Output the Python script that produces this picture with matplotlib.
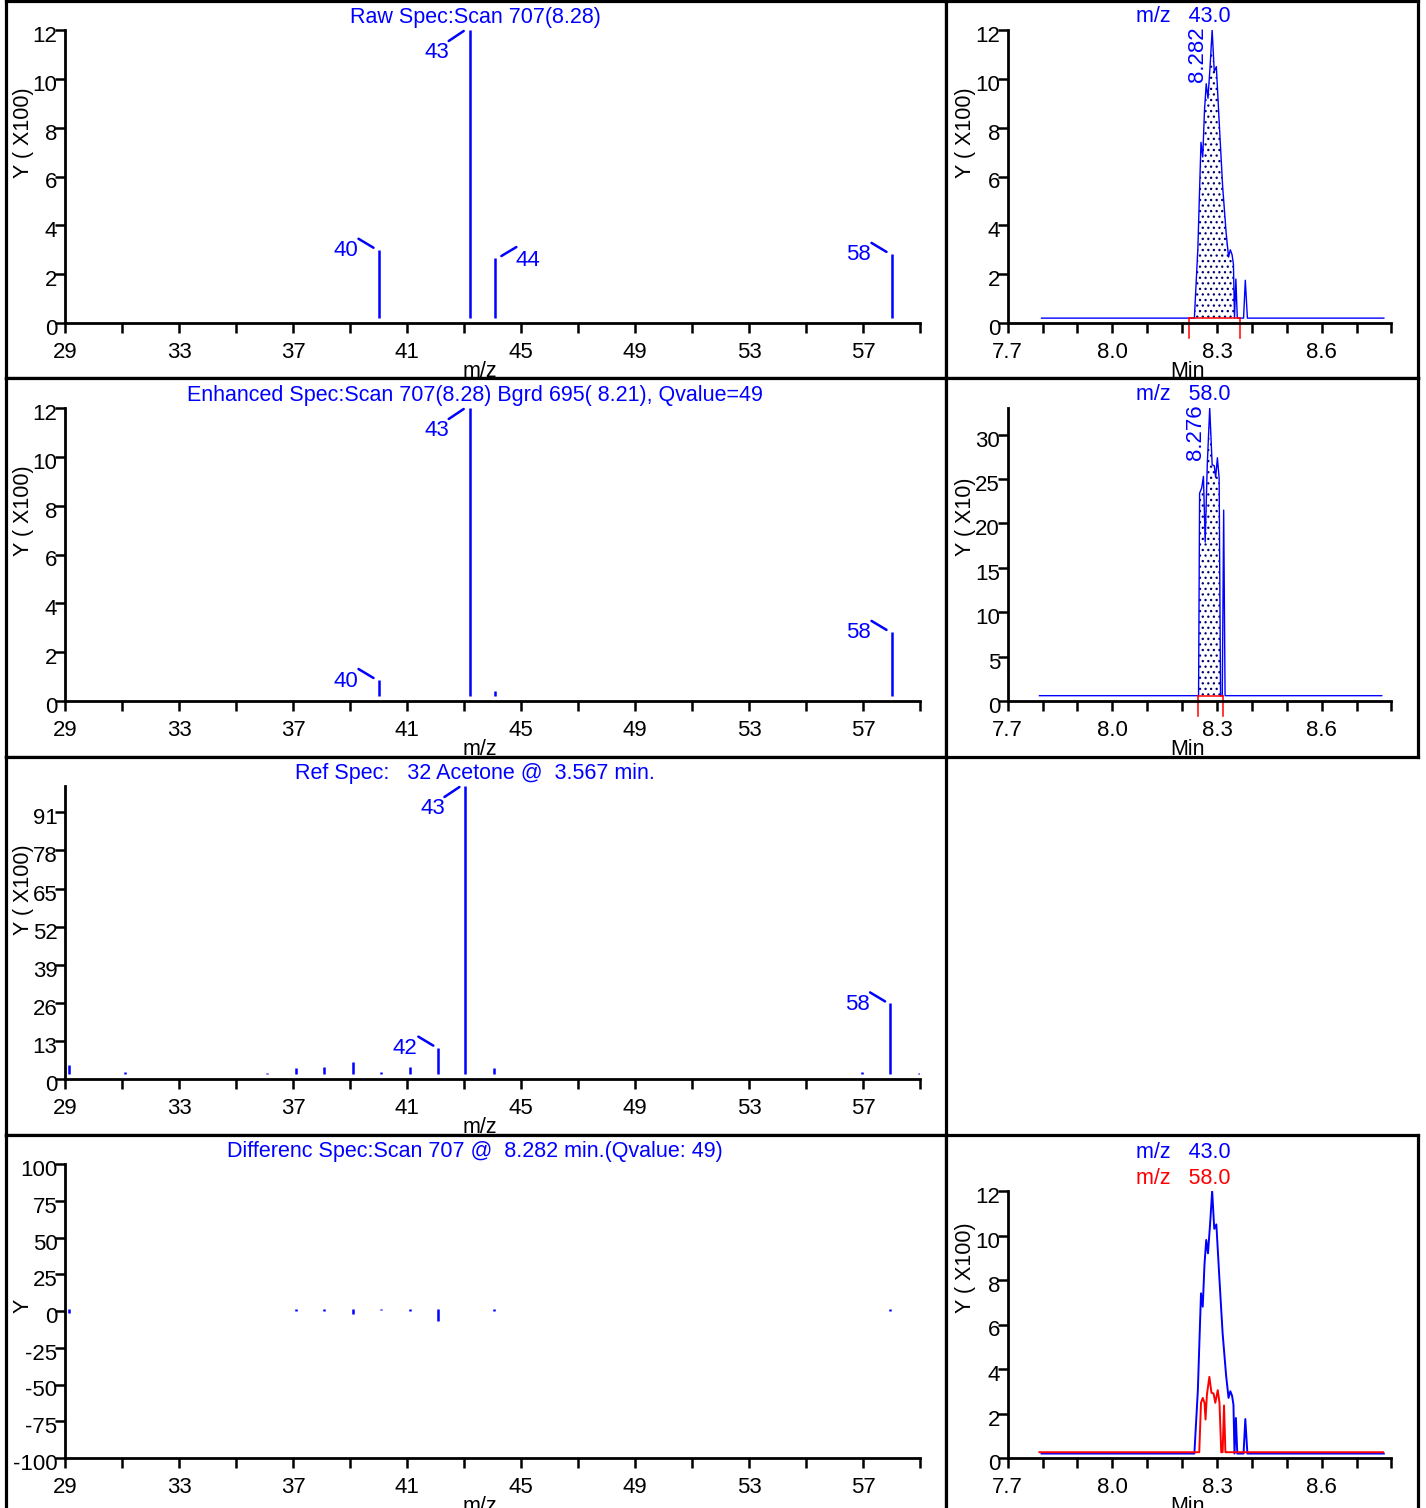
import numpy as np
import matplotlib
matplotlib.use('Agg')
import matplotlib.pyplot as plt
import matplotlib.transforms as mtransforms

plt.rcParams['font.family'] = ['Liberation Sans', 'DejaVu Sans']
plt.rcParams['font.size'] = 15.5
plt.rcParams['axes.unicode_minus'] = False
plt.rcParams['hatch.linewidth'] = 0.9

W, H = 1426, 1508
BLUE = '#0000ff'
RED = '#ff0000'
NAVY = '#000070'
TICK_FS = 16

# ---------------- spectra (m/z, intensity in counts) ----------------
raw_mz = [40.0, 43.2, 44.1, 58.0]
raw_int = [300, 1200, 266, 283]
raw_tag = ['ul', 'dl', 'ur', 'ul']

enh_mz = [40.0, 43.2, 44.1, 58.0]
enh_int = [86, 1200, 41, 283]
enh_tag = ['ul', 'dl', None, 'ul']

ref_mz = [29.15, 31.1, 36.1, 37.1, 38.1, 39.1, 40.1, 41.1, 42.1, 43.05, 44.05, 56.95, 57.95, 58.95]
ref_int = [490, 230, 200, 380, 410, 580, 250, 410, 1070, 10000, 380, 230, 2580, 210]
ref_tag = [None, None, None, None, None, None, None, None, 'ul', 'dl', None, None, 'ul', None]

diff_mz = [29.15, 37.1, 38.1, 39.1, 40.1, 41.1, 42.1, 44.05, 57.95]
diff_val = [-1.4, 0, 0, -2.2, 0.8, 0, -6.8, 0, 0]

# ---------------- chromatograms (min, counts) ----------------
t43 = [7.797, 8.235, 8.245, 8.249, 8.254, 8.259, 8.264, 8.269, 8.274, 8.280, 8.286, 8.292,
       8.298, 8.307, 8.316, 8.326, 8.333, 8.338, 8.343, 8.347, 8.350, 8.354, 8.358, 8.376,
       8.381, 8.387, 8.778]
i43 = [20, 20, 304, 500, 740, 680, 870, 980, 920, 1050, 1200, 1030,
       1050, 800, 560, 370, 270, 300, 280, 240, 20, 180, 20, 20,
       175, 20, 20]
rt43 = 8.282
fill43 = (8.235, 8.350)
bracket43 = (8.219, 8.366)

t58 = [7.791, 8.247, 8.250, 8.256, 8.261, 8.266, 8.272, 8.279, 8.286, 8.292, 8.296, 8.301,
       8.306, 8.310, 8.315, 8.319, 8.323, 8.772]
i58 = [6, 6, 234, 240, 253, 179, 266, 330, 266, 265, 252, 274,
       251, 6, 6, 215, 6, 6]
rt58 = 8.276
fill58 = (8.247, 8.310)
bracket58 = (8.2446, 8.316)

# m/z 58 trace as drawn in the overlay panel
t58o = [7.791, 8.249, 8.254, 8.259, 8.264, 8.267, 8.271, 8.278, 8.284, 8.290, 8.295, 8.302,
        8.307, 8.312, 8.316, 8.320, 8.324, 8.776]
i58o = [26, 26, 248, 270, 248, 173, 285, 365, 293, 290, 248, 305,
        248, 26, 26, 236, 26, 26]

titles = ['Raw Spec:Scan 707(8.28)',
          'Enhanced Spec:Scan 707(8.28) Bgrd 695( 8.21), Qvalue=49',
          'Ref Spec:   32 Acetone @  3.567 min.',
          'Differenc Spec:Scan 707 @  8.282 min.(Qvalue: 49)']

fig = plt.figure(figsize=(W / 100, H / 100), dpi=100)
fig.patch.set_facecolor('white')


def rect(l, t, r, b):
    return [l / W, 1 - b / H, (r - l) / W, (b - t) / H]


def frame(l, t, r, b):
    p = fig.add_axes(rect(l, t, r, b), zorder=0)
    p.set_xticks([])
    p.set_yticks([])
    for s in p.spines.values():
        s.set_linewidth(2.3)
    return p


def ftext(p, x, y, s, **kw):
    return p.text(x / W, 1 - y / H, s, transform=fig.transFigure, clip_on=True, **kw)


def plot_ax(l, t, r, b):
    a = fig.add_axes(rect(l, t, r, b), zorder=1)
    a.patch.set_alpha(0)
    a.spines[['top', 'right']].set_visible(False)
    a.spines[['left', 'bottom']].set_linewidth(2)
    a.tick_params(direction='out', length=7, width=1.8, labelsize=TICK_FS)
    a.tick_params(axis='y', pad=-1.5)
    a.tick_params(axis='x', pad=7)
    return a


def shift_ylabels(a):
    off = mtransforms.ScaledTranslation(0, -4 / 100, fig.dpi_scale_trans)
    for lab in a.get_yticklabels():
        lab.set_transform(lab.get_transform() + off)


TAGS = {
    'dl': ((-6, -1), (-21, -11), (-33, -22)),
    'ul': ((-5, 2), (-20, 11), (-33, -1)),
    'ur': ((6, 2), (21, 11), (33, -2)),
}


def tag(a, x, y, kind):
    A, B, L = TAGS[kind]
    tr = mtransforms.offset_copy(a.transData, fig=fig, x=A[0], y=A[1], units='dots')
    a.annotate('', xy=(x, y), xycoords=tr, xytext=(B[0] - A[0], B[1] - A[1]),
               textcoords='offset pixels', annotation_clip=False,
               arrowprops=dict(arrowstyle='-', color=BLUE, lw=1.8, shrinkA=0, shrinkB=0))
    a.annotate(str(int(round(x))), xy=(x, y), xytext=L, textcoords='offset pixels',
               ha='center', va='center', color=BLUE, fontsize=TICK_FS, annotation_clip=False)


def mz_axis(a):
    a.set_xlim(29, 59)
    ticks = np.arange(29, 60, 2)
    a.set_xticks(ticks)
    a.set_xticklabels([str(v) if (v - 29) % 4 == 0 else '' for v in ticks])


def spectrum(a, mz, inten, tags, ymax, yticks, ylabels):
    mz_axis(a)
    a.set_ylim(0, ymax)
    a.set_yticks(yticks)
    a.set_yticklabels(ylabels)
    base = ymax * 5 / 293
    a.vlines(mz, base, inten, color=BLUE, lw=1.8)
    for x, y, k in zip(mz, inten, tags):
        if k:
            tag(a, x, y, k)
    shift_ylabels(a)


def rt_axis(a):
    a.set_xlim(7.7, 8.8)
    ticks = np.round(np.arange(7.7, 8.81, 0.1), 1)
    a.set_xticks(ticks)
    a.set_xticklabels(['%.1f' % v if v in (7.7, 8.0, 8.3, 8.6) else '' for v in ticks])


def chrom(a, t, y, ymax, px_h, fill, bracket, rt, yticks, ylabels):
    rt_axis(a)
    a.set_ylim(0, ymax)
    a.set_yticks(yticks)
    a.set_yticklabels(ylabels)
    t = np.asarray(t)
    y = np.asarray(y)
    base = y[0]
    mask = (t >= fill[0]) & (t <= fill[1])
    a.fill_between(t, base, y, where=mask, facecolor='white', edgecolor=NAVY,
                   hatch='...', linewidth=0)
    a.plot(t, y, color=BLUE, lw=1.0)
    low = -15 * ymax / px_h
    a.plot([bracket[0], bracket[1]], [base, base], color=RED, lw=1.1)
    for s in bracket:
        a.plot([s, s], [base, low], color=RED, lw=1.1, clip_on=False)
    a.annotate('%.3f' % rt, xy=(rt, ymax), xytext=(-13, -52), textcoords='offset pixels',
               rotation=90, rotation_mode='anchor', ha='left', va='center',
               color=BLUE, fontsize=TICK_FS, annotation_clip=False)
    shift_ylabels(a)


row_top = [1, 378, 757, 1135]
row_ax = [0, 378, 756, 1135]

# ---------------- frames and texts ----------------
for i in range(4):
    bottom = row_top[i + 1] if i < 3 else 1530
    p = frame(6, row_top[i], 946, bottom)
    ftext(p, 475, 17 + row_ax[i], titles[i], ha='center', va='center', color=BLUE)
    ftext(p, 480, 377 + row_ax[i], 'm/z', ha='center', va='baseline')
    ftext(p, 23, 178 + row_top[i] - (1 if i == 0 else 0), 'Y' if i == 3 else 'Y ( X100)',
          rotation=90, rotation_mode='anchor', ha='left', va='center')

right_rows = [0, 1, 3]
for i in right_rows:
    bottom = row_top[i + 1] if i < 3 else 1530
    p = frame(946, row_top[i], 1418, bottom)
    ftext(p, 1188, 377 + row_ax[i], 'Min', ha='center', va='baseline')
    ftext(p, 965, 178 + row_top[i] - (1 if i == 0 else 0), 'Y ( X10)' if i == 1 else 'Y ( X100)',
          rotation=90, rotation_mode='anchor', ha='left', va='center')
    if i == 0:
        ftext(p, 1183, 17, 'm/z   43.0', ha='center', va='center', color=BLUE)
    elif i == 1:
        ftext(p, 1183, 395, 'm/z   58.0', ha='center', va='center', color=BLUE)
    else:
        ftext(p, 1183, 1152, 'm/z   43.0', ha='center', va='center', color=BLUE)
        ftext(p, 1183, 1178, 'm/z   58.0', ha='center', va='center', color=RED)

# ---------------- spectra ----------------
yt12 = np.arange(0, 1201, 200)
yl12 = [str(v // 100) for v in yt12]

a1 = plot_ax(65, 30 + row_ax[0], 920, 323 + row_ax[0])
spectrum(a1, raw_mz, raw_int, raw_tag, 1200, yt12, yl12)

a2 = plot_ax(65, 30 + row_ax[1], 920, 323 + row_ax[1])
spectrum(a2, enh_mz, enh_int, enh_tag, 1200, yt12, yl12)

a3 = plot_ax(65, 30 + row_ax[2], 920, 323 + row_ax[2])
yt_ref = np.arange(0, 9101, 1300)
spectrum(a3, ref_mz, ref_int, ref_tag, 10000, yt_ref, [str(v // 100) for v in yt_ref])

a4 = plot_ax(65, 29 + row_ax[3], 920, 323 + row_ax[3])
mz_axis(a4)
a4.set_ylim(-100, 100)
yt_d = np.arange(-100, 101, 25)
a4.set_yticks(yt_d)
a4.set_yticklabels([str(v) for v in yt_d])
a4.vlines(diff_mz, 200 * 2.4 / 294, diff_val, color=BLUE, lw=1.8)
shift_ylabels(a4)

# ---------------- chromatograms ----------------
c1 = plot_ax(1007.7, 30, 1391.5, 323)
chrom(c1, t43, i43, 1200, 293, fill43, bracket43, rt43, yt12, yl12)

c2 = plot_ax(1007.7, 408, 1391.5, 701)
yt30 = np.arange(0, 301, 50)
chrom(c2, t58, i58, 330, 293, fill58, bracket58, rt58, yt30, [str(v // 10) for v in yt30])

c3 = plot_ax(1007.7, 1191, 1391.5, 1458)
rt_axis(c3)
c3.set_ylim(0, 1200)
c3.set_yticks(yt12)
c3.set_yticklabels(yl12)
c3.plot(t43, i43, color=BLUE, lw=1.4)
c3.plot(t58o, i58o, color=RED, lw=1.4)
shift_ylabels(c3)

fig.savefig('out.png', dpi=100, facecolor='white')
